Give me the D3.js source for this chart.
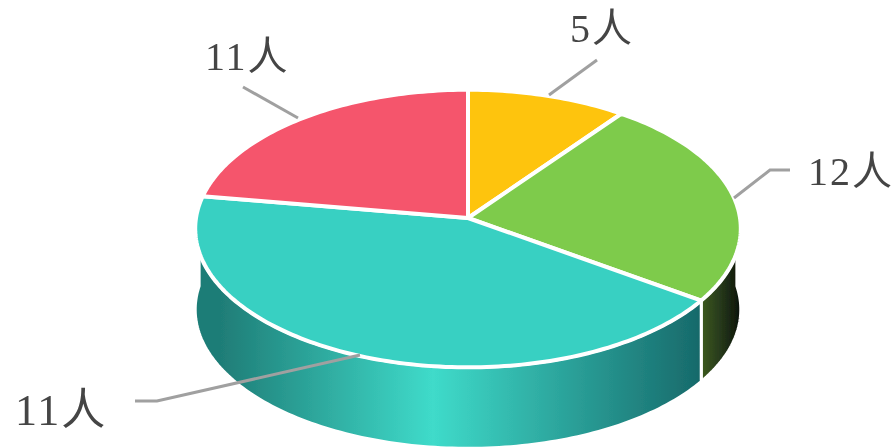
<!DOCTYPE html>
<html>
<head>
<meta charset="utf-8">
<script src="https://d3js.org/d3.v7.min.js"></script>
<style>
html, body { margin: 0; padding: 0; background: #fff; }
svg { display: block; }
text { font-family: "Liberation Serif", "Noto Sans CJK SC", serif; fill: #454545; letter-spacing: 2px; }
</style>
</head>
<body>
<div id="chart"></div>
<script>
// slices, clockwise from 12 o'clock
const categories = ["yellow", "green", "teal", "red"];
const values = [5, 12, 21, 11];
// the labels are what the picture prints, teal really says 11人 though its slice is bigger
const labels = ["5人", "12人", "11人", "11人"];
const topColors = ["#fec40c", "#7ecb4c", "#38d0c2", "#f5546c"];
const wallStops = [
  ["#fec40c", "#fec40c", "#fec40c"],
  ["#3c5a1e", "#26381a", "#0a1208"],
  ["#1f7d77", "#3fdbca", "#17696a"],
  ["#f5546c", "#f5546c", "#f5546c"]
];

const width = 894, height = 448;
const cx = 468, cy = 218;
const rx = 272, ry = 138, tilt = 0.076, depth = 81;

const svg = d3.select("#chart").append("svg")
  .attr("width", width)
  .attr("height", height);

const defs = svg.append("defs");
defs.append("filter").attr("id", "soft")
  .append("feGaussianBlur").attr("stdDeviation", 0.6);

// pie angle -> screen, a circle seen in perspective
function project(a, r) {
  const X = Math.sin(a) * r, Y = -Math.cos(a) * r;
  const w = 1 - tilt * Y;
  return [cx + rx * X / w, cy + ry * Y / w];
}

const pie = d3.pie().sort(null)(values);
const line = d3.line();

function rim(a0, a1) {
  const n = Math.max(2, Math.ceil((a1 - a0) / 0.02));
  return d3.range(n + 1).map(i => project(a0 + (a1 - a0) * i / n, 1));
}

const g = svg.append("g").attr("filter", "url(#soft)");

//===== side wall =====
pie.forEach((d, i) => {
  const a0 = Math.max(d.startAngle, Math.PI * 0.47);
  const a1 = Math.min(d.endAngle, Math.PI * 1.53);
  if (a1 <= a0) return;
  const edge = rim(a0, a1);
  const xs = d3.extent(edge, p => p[0]);
  const grad = defs.append("linearGradient")
    .attr("id", "wall" + i)
    .attr("gradientUnits", "userSpaceOnUse")
    .attr("x1", xs[0]).attr("x2", xs[1])
    .attr("y1", 0).attr("y2", 0);
  const stopAt = categories[i] === "teal" ? [0.05, 0.47, 1] : [0, 0.5, 1];
  wallStops[i].forEach((c, j) => {
    grad.append("stop").attr("offset", stopAt[j]).attr("stop-color", c);
  });
  const lower = edge.map(p => [p[0], p[1] + depth]).reverse();
  g.append("path")
    .attr("d", line(edge.concat(lower)) + "Z")
    .attr("fill", "url(#wall" + i + ")")
    .attr("stroke", "#fff")
    .attr("stroke-width", 3);
});

//===== top face =====
g.selectAll("path.top")
  .data(pie)
  .enter()
  .append("path")
  .attr("class", "top")
  .attr("d", d => line([[cx, cy]].concat(rim(d.startAngle, d.endAngle))) + "Z")
  .attr("fill", (d, i) => topColors[i])
  .attr("stroke", "#fff")
  .attr("stroke-width", 4)
  .attr("stroke-linejoin", "round");

//===== leader lines and labels =====
const leaders = [
  [[597, 60], [549, 95]],
  [[790, 170], [770, 170], [734, 198]],
  [[135, 401], [157, 401], [360, 355]],
  [[243, 87], [298, 118]]
];
const labelPos = [[570, 42], [808, 185], [15, 425], [205, 70]];
const labelSize = [40, 40, 44, 40];

g.selectAll("path.leader")
  .data(leaders)
  .enter()
  .append("path")
  .attr("class", "leader")
  .attr("d", d => line(d))
  .attr("fill", "none")
  .attr("stroke", "#a0a0a0")
  .attr("stroke-width", 3);

g.selectAll("text")
  .data(labels)
  .enter()
  .append("text")
  .attr("x", (d, i) => labelPos[i][0])
  .attr("y", (d, i) => labelPos[i][1])
  .attr("font-size", (d, i) => labelSize[i])
  .text(d => d);
</script>
</body>
</html>
